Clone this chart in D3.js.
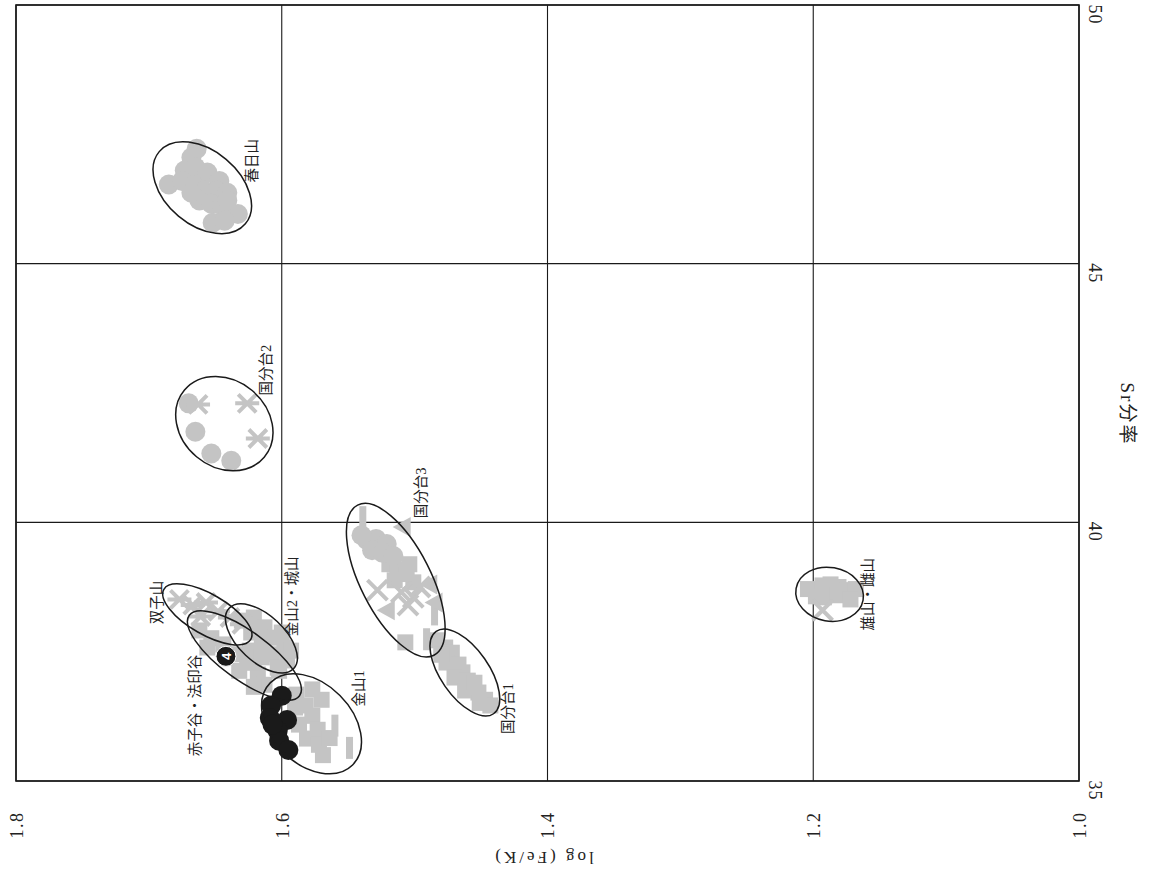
<!DOCTYPE html>
<html><head><meta charset="utf-8">
<script src="https://cdn.jsdelivr.net/npm/d3@7"></script>
<style>body{margin:0;background:#fff}</style>
</head><body><svg id="c" width="1150" height="877"></svg>
<script>
// ---------- data ----------
const xTicks = [1.8, 1.6, 1.4, 1.2, 1.0];
const xTickLabels = ["1.8", "1.6", "1.4", "1.2", "1.0"];
const yTicks = [35, 40, 45, 50];
const yTickLabels = ["35", "40", "45", "50"];
const xTitle = "log (Fe/K)";
const yTitle = "Sr分率";

// points: [log(Fe/K), Sr分率]
const kasugayamaCircles = [[1.685,46.53],[1.664,47.22],[1.668,47.05],[1.673,46.80],[1.665,46.86],[1.656,46.76],[1.647,46.60],[1.675,46.60],[1.666,46.51],[1.658,46.41],[1.649,46.41],[1.641,46.37],[1.662,46.22],[1.653,46.16],[1.645,46.12],[1.633,45.96],[1.652,45.79],[1.643,45.83],[1.641,46.22],[1.668,46.37]];
const kokubudai2Circles = [[1.670,42.30],[1.665,41.75],[1.653,41.33],[1.638,41.19]];
const kokubudai2Asterisks = [[1.663,42.28],[1.626,42.30],[1.618,41.62]];
const futagoyamaAsterisks = [[1.677,38.51],[1.667,38.40],[1.657,38.45],[1.648,38.28],[1.639,38.16],[1.630,38.03],[1.661,38.18]];
const akagodaniSquares = [[1.662,37.91],[1.653,37.76],[1.644,37.64],[1.656,37.58],[1.633,37.45],[1.626,37.29],[1.632,37.13],[1.618,37.06],[1.613,36.86],[1.621,36.82],[1.621,37.29]];
const markedPoint = [[1.642,37.41]];
const markedLabel = ["4"];
const kanayama2Squares = [[1.630,38.10],[1.621,38.16],[1.613,37.97],[1.623,37.87],[1.605,37.77],[1.615,37.68],[1.598,37.58],[1.608,37.45],[1.596,37.33],[1.603,37.19],[1.624,37.52],[1.600,37.87],[1.593,37.52],[1.615,37.39],[1.602,37.13]];
const kanayama1Black = [[1.600,36.65],[1.608,36.46],[1.609,36.22],[1.596,36.18],[1.603,35.97],[1.602,35.78],[1.595,35.60],[1.607,36.09]];
const kanayama1Squares = [[1.589,36.67],[1.577,36.77],[1.570,36.57],[1.582,36.46],[1.577,36.26],[1.587,36.09],[1.573,35.99],[1.581,35.82],[1.572,35.70],[1.564,35.83],[1.569,35.50],[1.590,36.42]];
const kanayama1Bars = [[1.560,36.07],[1.549,35.64]];
const kokubudai3Circles = [[1.536,39.66],[1.529,39.68],[1.521,39.58],[1.532,39.46],[1.524,39.41],[1.516,39.35],[1.540,39.75]];
const kokubudai3Squares = [[1.519,39.19],[1.513,39.09],[1.504,39.19],[1.506,39.00],[1.515,38.88],[1.501,38.84],[1.507,37.68]];
const kokubudai3Crosses = [[1.528,38.69],[1.510,38.65],[1.501,38.55],[1.505,38.40],[1.496,38.75]];
const kokubudai3Triangles = [[1.509,39.91],[1.489,38.80],[1.521,38.30],[1.485,38.45]];
const kokubudai3Bars = [[1.539,40.10],[1.485,38.22],[1.491,37.74]];
const kokubudai1Squares = [[1.483,37.72],[1.477,37.58],[1.472,37.48],[1.476,37.29],[1.467,37.25],[1.464,37.10],[1.470,37.00],[1.460,36.94],[1.457,36.79],[1.452,36.71],[1.447,36.57],[1.443,36.46],[1.462,36.75],[1.451,36.51],[1.455,36.90],[1.480,37.44]];
const oyamaSquares = [[1.204,38.71],[1.193,38.78],[1.187,38.80],[1.181,38.75],[1.174,38.69],[1.168,38.71],[1.192,38.55],[1.182,38.59],[1.172,38.51],[1.198,38.57]];
const oyamaCrosses = [[1.193,38.30]];

// groups (ellipses + labels)
const groupNames = ["春日山","国分台2","双子山","赤子谷・法印谷","金山2・城山","金山1","国分台3","国分台1","雄山・雌山"];
const ellipseCenters = [[1.6598,46.468],[1.6432,41.908],[1.656,38.221],[1.6281,37.426],[1.6153,37.756],[1.5776,36.106],[1.5142,38.881],[1.4622,37.096],[1.1877,38.609]];
const ellipseMajorEnds = [[1.6274,45.77],[1.6132,41.26],[1.6233,37.736],[1.5866,36.649],[1.591,37.173],[1.5467,35.31],[1.4855,37.43],[1.4406,36.30],[1.1625,38.495]];
const ellipseAxisRatios = [0.66,0.83,0.4,0.353,0.523,0.69,0.417,0.48,0.79];
const labelAt = [[1.6228,46.99],[1.6123,42.94],[1.6937,38.45],[1.6658,36.46],[1.5927,38.57],[1.5421,36.79],[1.4954,40.57],[1.4298,36.40],[1.1591,38.61]];

// ---------- drawing ----------
const svg = d3.select("#c");
const GRAY = "#c4c4c4";
const INK = "#1a1a1a";
const FONT = "'Liberation Serif','Noto Sans CJK JP',serif";

const x = d3.scaleLinear().domain([1.8, 1.0]).range([16, 1079]);
const y = d3.scaleLinear().domain([35, 50]).range([781, 5]);

const grid = svg.append("g");
xTicks.forEach(t => grid.append("line").attr("x1", x(t)).attr("x2", x(t)).attr("y1", y(50)).attr("y2", y(35))
  .attr("stroke", INK).attr("stroke-width", 1.1));
yTicks.forEach(t => grid.append("line").attr("x1", x(1.8)).attr("x2", x(1.0)).attr("y1", y(t)).attr("y2", y(t))
  .attr("stroke", INK).attr("stroke-width", 1.1));
svg.append("rect").attr("x", x(1.8)).attr("y", y(50)).attr("width", x(1.0) - x(1.8)).attr("height", y(35) - y(50))
  .attr("fill", "none").attr("stroke", INK).attr("stroke-width", 1.6);

const marks = svg.append("g");
const all = (arrs) => arrs.flat();

// squares
marks.selectAll(".sq").data(all([akagodaniSquares, kanayama2Squares, kanayama1Squares, kokubudai3Squares, kokubudai1Squares, oyamaSquares]))
  .join("rect").attr("x", d => x(d[0]) - 8).attr("y", d => y(d[1]) - 8).attr("width", 16).attr("height", 16).attr("fill", GRAY);
// bars
marks.selectAll(".bar").data(all([kanayama1Bars, kokubudai3Bars]))
  .join("rect").attr("x", d => x(d[0]) - 3.5).attr("y", d => y(d[1]) - 11).attr("width", 7).attr("height", 22).attr("fill", GRAY);
// circles
marks.selectAll(".ci").data(all([kasugayamaCircles, kokubudai2Circles, kokubudai3Circles]))
  .join("circle").attr("cx", d => x(d[0])).attr("cy", d => y(d[1])).attr("r", 10).attr("fill", GRAY);
// triangles (pointing left)
marks.selectAll(".tri").data(kokubudai3Triangles)
  .join("path").attr("d", d => { const cx = x(d[0]), cy = y(d[1]); return `M${cx-10},${cy}L${cx+8},${cy-10}L${cx+8},${cy+10}Z`; })
  .attr("fill", GRAY);
// crosses
const crossPath = (cx, cy, s) => `M${cx-s},${cy-s}L${cx+s},${cy+s}M${cx-s},${cy+s}L${cx+s},${cy-s}`;
marks.selectAll(".cr").data(all([kokubudai3Crosses, oyamaCrosses]))
  .join("path").attr("d", d => crossPath(x(d[0]), y(d[1]), 10)).attr("stroke", GRAY).attr("stroke-width", 4).attr("fill", "none");
// asterisks
marks.selectAll(".as").data(all([kokubudai2Asterisks, futagoyamaAsterisks]))
  .join("path").attr("d", d => { const cx = x(d[0]), cy = y(d[1]); return crossPath(cx, cy, 9) + `M${cx-12},${cy}L${cx+12},${cy}`; })
  .attr("stroke", GRAY).attr("stroke-width", 4).attr("fill", "none");
// black circles
marks.selectAll(".bk").data(kanayama1Black)
  .join("circle").attr("cx", d => x(d[0])).attr("cy", d => y(d[1])).attr("r", 10).attr("fill", INK);
// numbered point
const mp = marks.selectAll(".mp").data(markedPoint).join("g")
  .attr("transform", d => `translate(${x(d[0])},${y(d[1])})`);
mp.append("circle").attr("r", 10).attr("fill", INK).attr("stroke", "#fff").attr("stroke-width", 1);
mp.append("text").text((d, i) => markedLabel[i]).attr("transform", "rotate(-90)")
  .attr("text-anchor", "middle").attr("dy", "0.36em").attr("fill", "#fff")
  .attr("font-family", "'Liberation Sans',sans-serif").attr("font-weight", "bold").attr("font-size", 13);

// ellipses
const eg = svg.append("g");
groupNames.forEach((name, i) => {
  const cx = x(ellipseCenters[i][0]), cy = y(ellipseCenters[i][1]);
  const ex = x(ellipseMajorEnds[i][0]), ey = y(ellipseMajorEnds[i][1]);
  const a = Math.hypot(ex - cx, ey - cy);
  const ang = Math.atan2(ey - cy, ex - cx) * 180 / Math.PI;
  eg.append("ellipse").attr("transform", `translate(${cx},${cy}) rotate(${ang})`)
    .attr("rx", a).attr("ry", a * ellipseAxisRatios[i])
    .attr("fill", "none").attr("stroke", INK).attr("stroke-width", 1.5);
  eg.append("text").text(name)
    .attr("transform", `translate(${x(labelAt[i][0])},${y(labelAt[i][1])}) rotate(-90)`)
    .attr("text-anchor", "middle").attr("dy", "0.36em")
    .attr("font-family", FONT).attr("font-size", 14.5).attr("fill", "#222");
});

// bottom axis (log Fe/K)
const xa = svg.append("g").attr("transform", `translate(0,${y(35)})`)
  .call(d3.axisBottom(x).tickValues(xTicks).tickFormat((d, i) => xTickLabels[i]).tickSize(0));
xa.select(".domain").remove();
xa.selectAll("text").attr("y", 0).attr("dy", "0.36em")
  .attr("transform", "translate(0,44) rotate(-90)").attr("text-anchor", "middle")
  .attr("font-family", FONT).attr("font-size", 18).attr("letter-spacing", 1.5).attr("fill", "#222");
svg.append("text").text(xTitle)
  .attr("transform", `translate(543,858) rotate(180)`)
  .attr("text-anchor", "middle").attr("dy", "0.36em")
  .attr("font-family", FONT).attr("font-size", 17).attr("letter-spacing", 3).attr("fill", "#222");

// right axis (Sr)
const ya = svg.append("g").attr("transform", `translate(${x(1.0)},0)`)
  .call(d3.axisRight(y).tickValues(yTicks).tickFormat((d, i) => yTickLabels[i]).tickSize(0));
ya.select(".domain").remove();
ya.selectAll("text").attr("x", 0).attr("dy", "0.36em")
  .attr("transform", "translate(16,9) rotate(90)").attr("text-anchor", "middle")
  .attr("font-family", FONT).attr("font-size", 18).attr("letter-spacing", 1).attr("fill", "#222");
svg.append("text").text(yTitle)
  .attr("transform", `translate(1128,414) rotate(90)`)
  .attr("text-anchor", "middle").attr("dy", "0.36em")
  .attr("font-family", FONT).attr("font-size", 19).attr("letter-spacing", 2).attr("fill", "#222");
</script>
</body></html>
